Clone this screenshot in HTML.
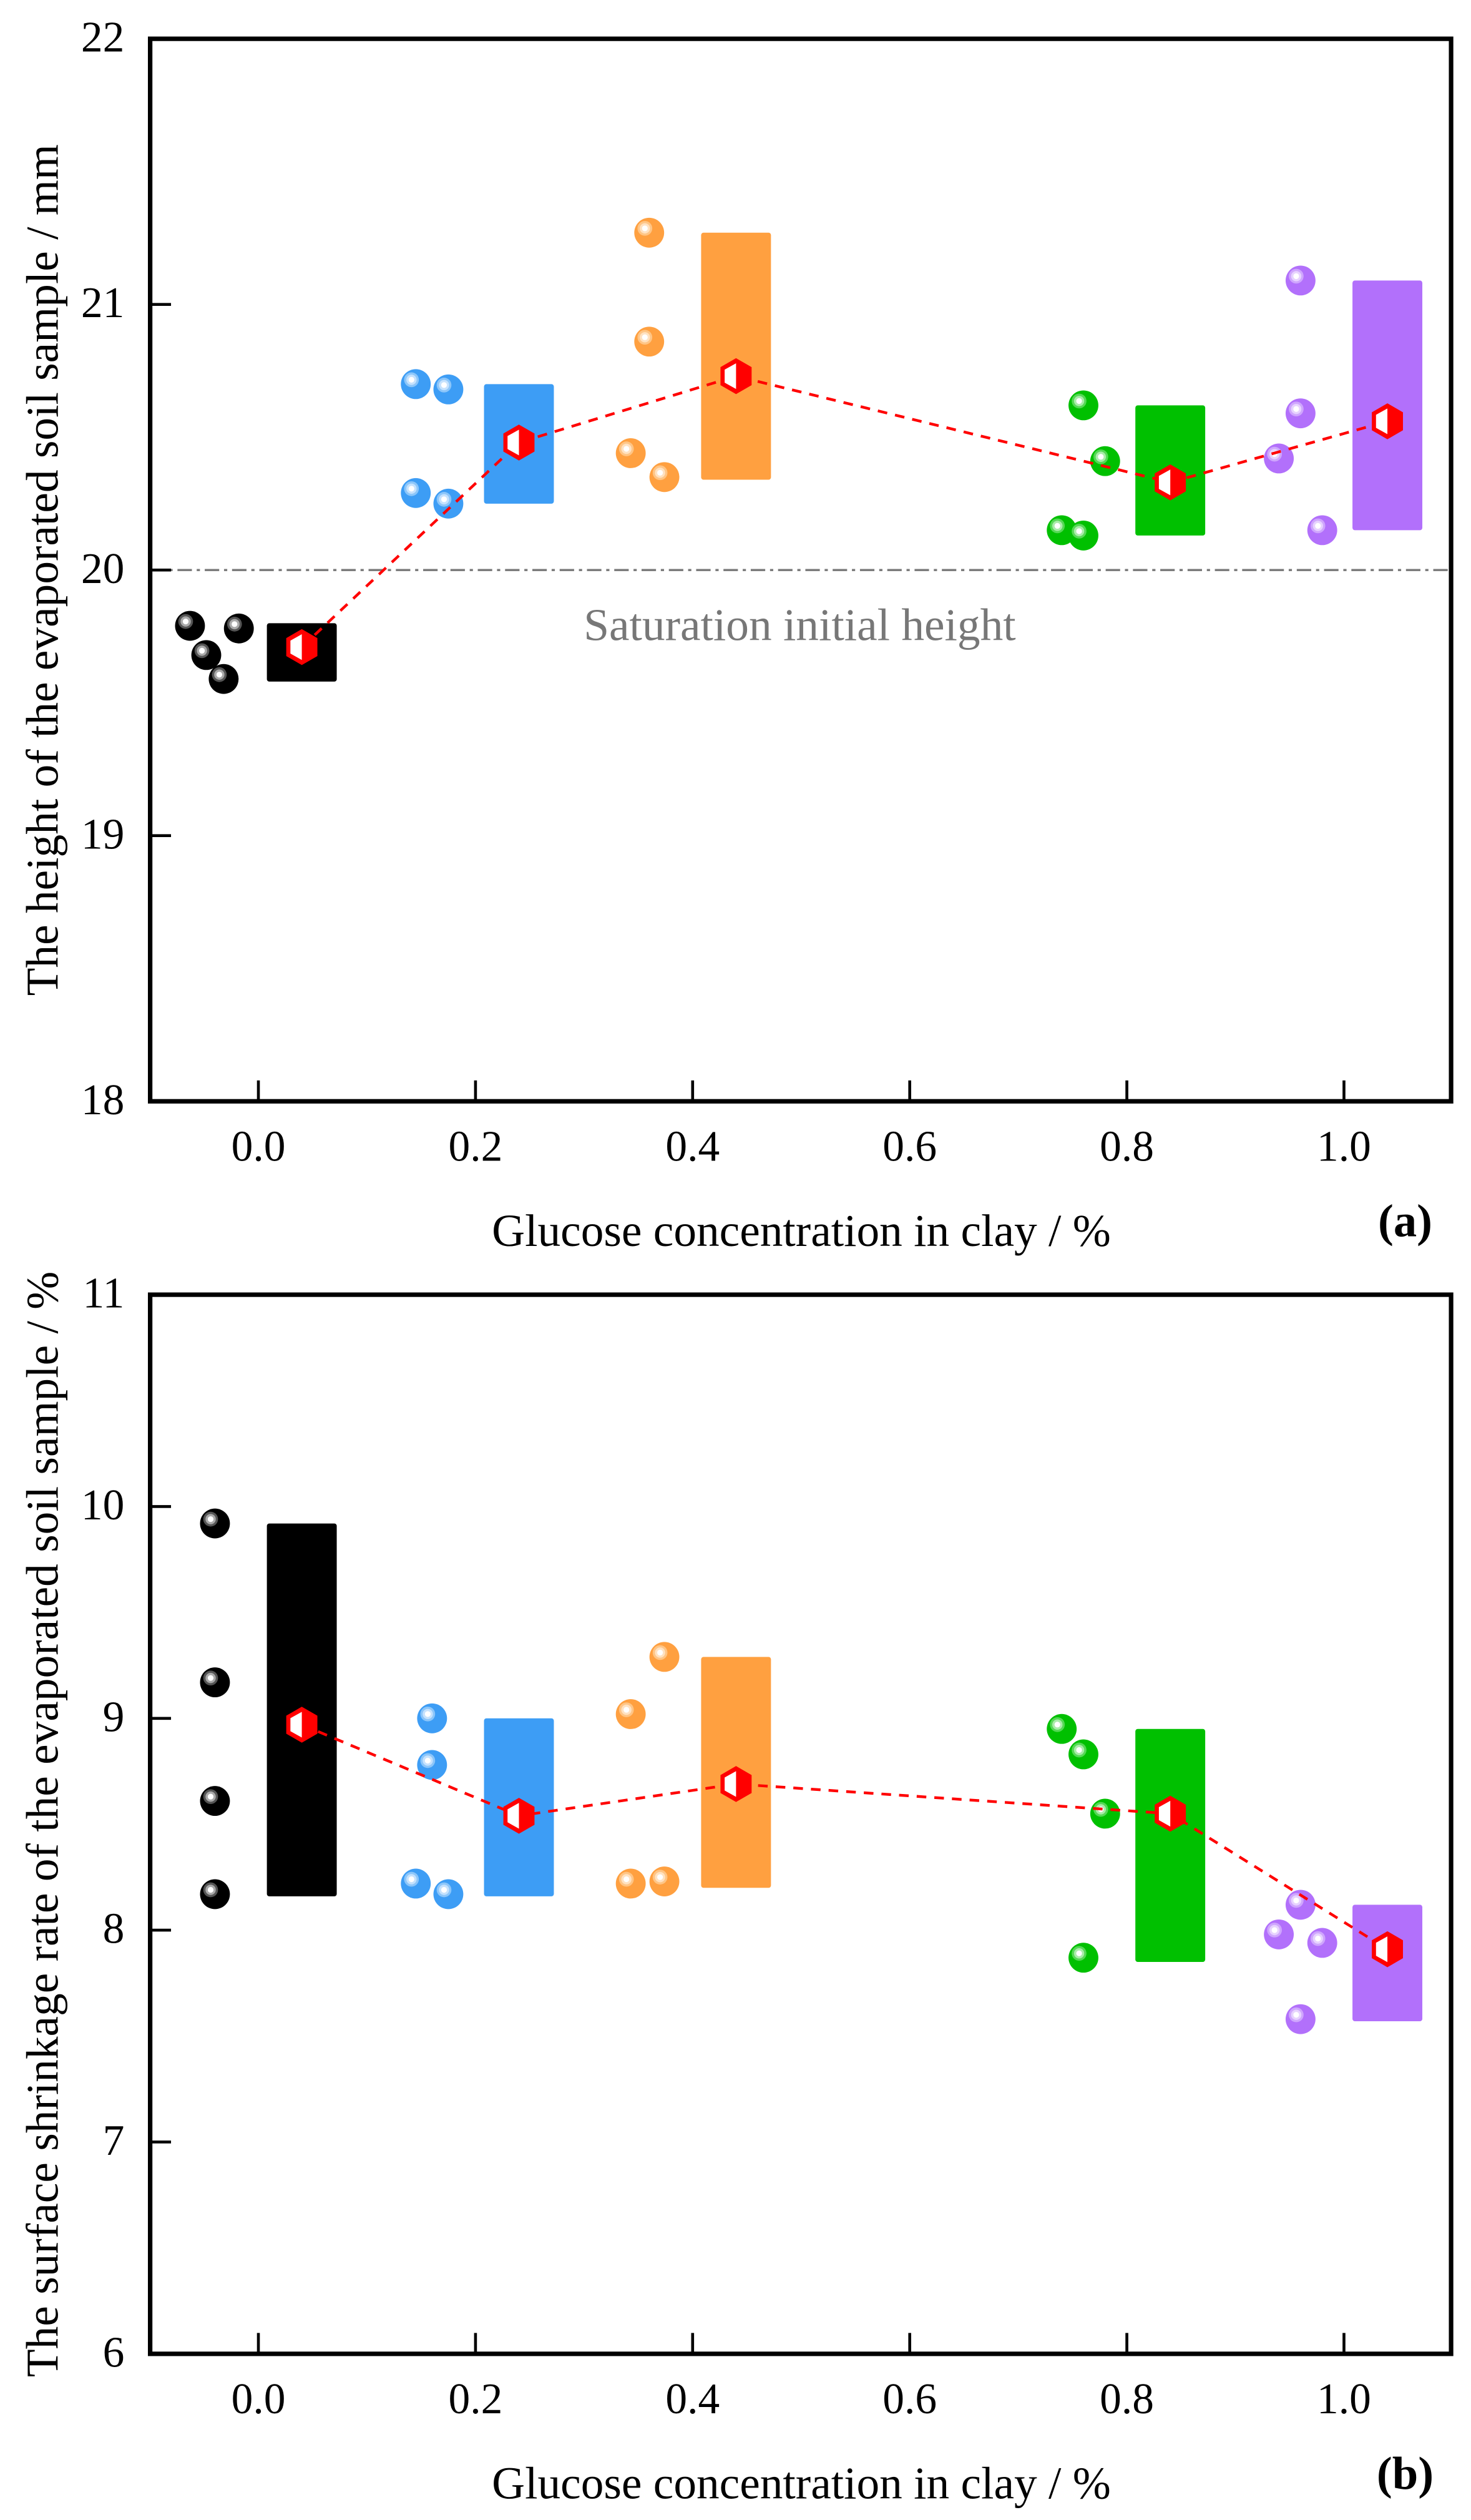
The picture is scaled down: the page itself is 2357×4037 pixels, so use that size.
<!DOCTYPE html>
<html><head><meta charset="utf-8"><style>
html,body{margin:0;padding:0;background:#fff}
svg{display:block}
text{font-family:"Liberation Serif",serif;fill:#000}
</style></head><body>
<svg id="fig" width="2357" height="4037" viewBox="0 0 916 1568" xmlns="http://www.w3.org/2000/svg">
</svg>
<script>
const categories = [0.0, 0.2, 0.4, 0.6, 0.8, 1.0];
const groupX = [0.04, 0.24, 0.44, 0.84, 1.04];
const colors = ['#000000', '#3d9df5', '#ffa040', '#00c000', '#b270fb'];
const ring1 = ['#555555', '#8cc6fa', '#ffc585', '#55d855', '#cfa6fd'];
const ring2 = ['#aaaaaa', '#c6e2fd', '#ffe2c2', '#aaecaa', '#e7d3fe'];
// Panel (a): height
const aPtsX = [[-0.063,-0.048,-0.032,-0.018],[0.145,0.175,0.145,0.175],[0.36,0.36,0.343,0.374],[0.76,0.74,0.76,0.78],[0.96,0.96,0.94,0.98]];
const aPtsY = [[19.79,19.68,19.59,19.78],[20.70,20.68,20.29,20.25],[21.27,20.86,20.44,20.35],[20.62,20.15,20.13,20.41],[21.09,20.59,20.42,20.15]];
const aBoxLow = [19.58,20.25,20.34,20.13,20.15];
const aBoxHigh = [19.80,20.70,21.27,20.62,21.09];
const aMean = [19.71,20.48,20.73,20.33,20.56];
const aYTicks = [18,19,20,21,22];
// Panel (b): shrinkage
const bPtsX = [[-0.04,-0.04,-0.04,-0.04],[0.16,0.16,0.145,0.175],[0.374,0.343,0.343,0.374],[0.74,0.76,0.78,0.76],[0.96,0.94,0.98,0.96]];
const bPtsY = [[9.92,9.17,8.61,8.17],[9.00,8.78,8.22,8.17],[9.29,9.02,8.22,8.23],[8.95,8.83,8.55,7.87],[8.12,7.98,7.94,7.58]];
const bBoxLow = [8.16,8.16,8.20,7.85,7.57];
const bBoxHigh = [9.92,9.00,9.29,8.95,8.12];
const bMean = [8.97,8.54,8.69,8.55,7.91];
const bYTicks = [6,7,8,9,10,11];

const NS='http://www.w3.org/2000/svg';
const svg=document.getElementById('fig');
function mk(tag,attrs,parent){const e=document.createElementNS(NS,tag);for(const k in attrs)e.setAttribute(k,attrs[k]);(parent||svg).appendChild(e);return e;}
const L=93.5,R=903.6;
const xs=v=>160.9+v*676;

function panel(p){
  const g=mk('g',{});
  
  
  const ys=v=>p.bot-(v-p.ymin)*(p.bot-p.top)/(p.ymax-p.ymin);
  if(p.ref!==undefined){
    const l=mk('line',{x1:L,x2:R,y1:ys(p.ref),y2:ys(p.ref),stroke:'#777','stroke-width':1.3,'stroke-dasharray':'9,3,2,3'},g);
    
    
    const t=mk('text',{x:498,y:398,'font-size':28.5,'text-anchor':'middle',style:'fill:#777'},g);
    t.textContent='Saturation initial height';
    
    
  }
  const bw=43.5/676;
  for(let i=0;i<5;i++){
    const r=mk('rect',{x:xs(groupX[i]-bw/2),y:ys(p.hi[i]),width:43.5,height:ys(p.lo[i])-ys(p.hi[i]),fill:colors[i],rx:1.5},g);
    
    
    for(let j=0;j<p.px[i].length;j++){
      const cx=xs(p.px[i][j]),cy=ys(p.py[i][j]);
      const c=mk('circle',{cx:cx,cy:cy,r:9.3,fill:colors[i]},g);
      
      
      mk('circle',{cx:cx-2.7,cy:cy-2.7,r:4.6,fill:ring1[i]},g);
      mk('circle',{cx:cx-2.7,cy:cy-2.7,r:3.2,fill:ring2[i]},g);
      mk('circle',{cx:cx-2.7,cy:cy-2.7,r:1.8,fill:'#fff'},g);
    }
  }
  let d='';
  for(let i=0;i<5;i++)d+=(i?'L':'M')+xs(groupX[i])+','+ys(p.mean[i]);
  const ln=mk('path',{d:d,fill:'none',stroke:'#ff0000','stroke-width':1.7,'stroke-dasharray':'6,5'},g);
  
  
  for(let i=0;i<5;i++){
    const cx=xs(groupX[i]),cy=ys(p.mean[i]),s=10.5;
    const pts=[];for(let k=0;k<6;k++){const a=Math.PI/180*(60*k-90);pts.push((cx+s*Math.cos(a))+','+(cy+s*Math.sin(a)));}
    const hx=mk('polygon',{points:pts.join(' '),fill:'#ff0000',stroke:'#ff0000','stroke-width':1.2},g);
    
    
    const w=s*Math.cos(Math.PI/6), t=2;
    mk('polygon',{points:`${cx},${cy-s+t+0.5} ${cx-w+t},${cy-s/2+t*0.6} ${cx-w+t},${cy+s/2-t*0.6} ${cx},${cy+s-t-0.5}`,fill:'#fff'},g);
  }
  const fr=mk('rect',{x:L,y:p.top,width:R-L,height:p.bot-p.top,fill:'none',stroke:'#000','stroke-width':2.8},g);
  
  
  categories.forEach(c=>{
    mk('line',{x1:xs(c),x2:xs(c),y1:p.bot,y2:p.bot-13,stroke:'#000','stroke-width':1.8},g);
    const t=mk('text',{x:xs(c),y:p.bot+37,'font-size':27,'text-anchor':'middle'},g);
    t.textContent=c.toFixed(1);
    
    
  });
  p.ticks.forEach(v=>{
    mk('line',{x1:L,x2:L+13,y1:ys(v),y2:ys(v),stroke:'#000','stroke-width':1.8},g);
    const t=mk('text',{x:L-16,y:ys(v)+8,'font-size':27,'text-anchor':'end'},g);
    t.textContent=v;
    
    
  });
  const xt=mk('text',{x:499,y:p.bot+90,'font-size':28.5,'text-anchor':'middle'},g);
  xt.textContent='Glucose concentration in clay / %';
  
  
  const yt=mk('text',{x:0,y:0,'font-size':28.5,'text-anchor':'middle',transform:`translate(36,${(p.top+p.bot)/2}) rotate(-90)`},g);
  yt.textContent=p.ytitle;
  
  
  const lb=mk('text',{x:875,y:p.bot+84,'font-size':29,'font-weight':'bold','text-anchor':'middle'},g);
  lb.textContent=p.label;
  
  
}
panel({name:'panel-a-height',top:23.7,bot:685.2,ymin:18,ymax:22,ref:20,px:aPtsX,py:aPtsY,lo:aBoxLow,hi:aBoxHigh,mean:aMean,ticks:aYTicks,ytitle:'The height of the evaporated soil sample / mm',label:'(a)'});
panel({name:'panel-b-shrinkage',top:805.6,bot:1465,ymin:6,ymax:11,px:bPtsX,py:bPtsY,lo:bBoxLow,hi:bBoxHigh,mean:bMean,ticks:bYTicks,ytitle:'The surface shrinkage rate of the evaporated soil sample / %',label:'(b)'});
</script>
</body></html>
